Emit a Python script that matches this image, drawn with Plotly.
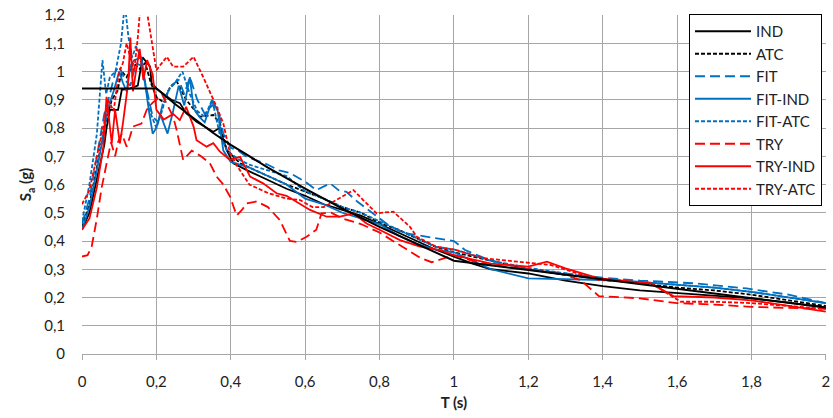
#!/usr/bin/env python
# coding=utf-8
#
# Spectral acceleration vs period: design spectrum and scaled records
#

import plotly.graph_objects as go

# design (target) spectrum, drawn black but not in the legend
t_target = [0, 0.2, 0.25, 0.3, 0.35, 0.4, 0.5, 0.6, 0.7, 0.8, 0.9, 1.0, 1.2, 1.4, 1.6, 1.8, 2.0]
sa_target = [0.94, 0.94, 0.885, 0.835, 0.785, 0.74, 0.66, 0.585, 0.515, 0.45, 0.39, 0.33,
             0.297, 0.264, 0.231, 0.198, 0.165]

t_ind = [0, 0.02, 0.04, 0.06, 0.066, 0.075, 0.097, 0.107, 0.13, 0.15, 0.163, 0.183, 0.187, 0.2,
         0.22, 0.24, 0.263, 0.28, 0.308, 0.335, 0.353, 0.37, 0.389, 0.407, 0.443, 0.5, 0.55, 0.6,
         0.65, 0.7, 0.75, 0.8, 0.85, 0.9, 0.95, 1.0, 1.05, 1.1, 1.2, 1.3, 1.4, 1.5, 1.6, 1.7, 1.8,
         1.9, 2.0]
sa_ind = [0.44, 0.5, 0.62, 0.74, 0.80, 0.864, 0.864, 0.935, 0.94, 0.95, 1.05, 1.017, 0.96, 0.94,
          0.92, 0.9, 0.888, 0.853, 0.822, 0.80, 0.787, 0.8, 0.722, 0.675, 0.651, 0.616, 0.585, 0.56,
          0.53, 0.51, 0.49, 0.46, 0.43, 0.40, 0.37, 0.345, 0.32, 0.30, 0.285, 0.26, 0.24, 0.225,
          0.215, 0.205, 0.197, 0.182, 0.165]

t_atc = [0, 0.02, 0.04, 0.06, 0.08, 0.095, 0.107, 0.12, 0.138, 0.155, 0.17, 0.185, 0.2, 0.22,
         0.237, 0.255, 0.28, 0.317, 0.353, 0.371, 0.389, 0.425, 0.45, 0.5, 0.55, 0.6, 0.65, 0.7,
         0.75, 0.8, 0.85, 0.9, 0.95, 1.0, 1.1, 1.2, 1.3, 1.4, 1.5, 1.6, 1.7, 1.8, 1.9, 2.0]
sa_atc = [0.45, 0.53, 0.66, 0.8, 0.9, 0.93, 1.0, 0.98, 1.03, 1.01, 1.03, 0.96, 0.91, 0.89, 0.946,
          0.964, 0.90, 0.84, 0.846, 0.817, 0.722, 0.675, 0.66, 0.63, 0.60, 0.575, 0.55, 0.52, 0.50,
          0.465, 0.44, 0.41, 0.38, 0.36, 0.33, 0.30, 0.28, 0.265, 0.25, 0.235, 0.225, 0.21, 0.19,
          0.17]

t_fit = [0, 0.02, 0.04, 0.06, 0.075, 0.09, 0.1, 0.115, 0.13, 0.145, 0.16, 0.175, 0.19, 0.205,
         0.22, 0.24, 0.26, 0.275, 0.29, 0.31, 0.33, 0.35, 0.365, 0.38, 0.4, 0.42, 0.44, 0.46, 0.5,
         0.53, 0.56, 0.6, 0.63, 0.667, 0.69, 0.711, 0.74, 0.78, 0.82, 0.86, 0.9, 0.95, 1.0, 1.03,
         1.1, 1.2, 1.3, 1.4, 1.5, 1.554, 1.65, 1.787, 1.9, 2.0]
sa_fit = [0.46, 0.55, 0.7, 0.85, 0.92, 1.0, 1.02, 0.97, 0.95, 1.03, 1.02, 0.93, 0.84, 0.82, 0.9,
          0.95, 0.97, 0.92, 0.98, 0.9, 0.85, 0.88, 0.87, 0.78, 0.73, 0.72, 0.70, 0.69, 0.67, 0.65,
          0.64, 0.61, 0.58, 0.604, 0.58, 0.574, 0.54, 0.50, 0.46, 0.43, 0.42, 0.41, 0.40, 0.368,
          0.33, 0.30, 0.285, 0.27, 0.26, 0.256, 0.25, 0.232, 0.21, 0.18]

t_fit_ind = [0, 0.02, 0.04, 0.06, 0.07, 0.085, 0.1, 0.11, 0.12, 0.13, 0.14, 0.16, 0.17, 0.18,
             0.19, 0.2, 0.21, 0.23, 0.245, 0.26, 0.275, 0.29, 0.3, 0.315, 0.33, 0.35, 0.365, 0.38,
             0.4, 0.45, 0.5, 0.55, 0.6, 0.65, 0.7, 0.75, 0.8, 0.85, 0.9, 0.95, 1.0, 1.05, 1.1,
             1.2, 1.3, 1.4, 1.5, 1.6, 1.7, 1.8, 1.9, 2.0]
sa_fit_ind = [0.44, 0.52, 0.65, 0.8, 0.87, 0.93, 1.0, 0.96, 0.93, 1.02, 1.04, 1.05, 0.95, 0.86,
              0.78, 0.8, 0.85, 0.78, 0.86, 0.95, 0.88, 0.98, 0.87, 0.84, 0.82, 0.9, 0.86, 0.72,
              0.68, 0.66, 0.63, 0.6, 0.55, 0.53, 0.50, 0.48, 0.46, 0.42, 0.39, 0.37, 0.36, 0.33,
              0.30, 0.268, 0.265, 0.262, 0.255, 0.245, 0.235, 0.22, 0.2, 0.18]

t_fit_atc = [0, 0.02, 0.04, 0.055, 0.065, 0.075, 0.09, 0.105, 0.115, 0.125, 0.135, 0.145, 0.155,
             0.17, 0.185, 0.2, 0.215, 0.23, 0.25, 0.27, 0.29, 0.31, 0.33, 0.35, 0.37, 0.39, 0.42,
             0.45, 0.5, 0.55, 0.6, 0.65, 0.7, 0.75, 0.8, 0.85, 0.9, 0.95, 1.0, 1.1, 1.2, 1.3, 1.4,
             1.5, 1.6, 1.7, 1.8, 1.9, 2.0]
sa_fit_atc = [0.47, 0.6, 0.78, 1.04, 0.92, 0.98, 1.0, 1.1, 1.24, 1.12, 1.05, 1.09, 1.06, 0.96,
              0.85, 0.80, 0.86, 0.93, 0.96, 1.0, 0.92, 0.86, 0.84, 0.9, 0.78, 0.72, 0.69, 0.67,
              0.65, 0.63, 0.575, 0.55, 0.52, 0.5, 0.47, 0.44, 0.41, 0.38, 0.37, 0.33, 0.305,
              0.285, 0.265, 0.255, 0.245, 0.235, 0.22, 0.2, 0.18]

t_try = [0, 0.015, 0.026, 0.04, 0.053, 0.07, 0.078, 0.089, 0.097, 0.107, 0.12, 0.129, 0.137,
         0.16, 0.174, 0.19, 0.2, 0.215, 0.23, 0.245, 0.255, 0.272, 0.295, 0.32, 0.344, 0.362,
         0.38, 0.398, 0.416, 0.43, 0.443, 0.47, 0.5, 0.532, 0.559, 0.577, 0.604, 0.63, 0.644,
         0.67, 0.7, 0.75, 0.8, 0.85, 0.91, 0.94, 1.0, 1.05, 1.1, 1.2, 1.3, 1.34, 1.39, 1.5, 1.6,
         1.7, 1.8, 1.9, 2.0]
sa_try = [0.345, 0.35, 0.38, 0.48, 0.59, 0.70, 0.75, 0.70, 0.75, 0.78, 0.734, 0.77, 0.805, 0.816,
          0.864, 0.89, 0.9, 0.92, 0.88, 0.84, 0.79, 0.687, 0.72, 0.70, 0.675, 0.628, 0.60, 0.557,
          0.49, 0.51, 0.533, 0.54, 0.52, 0.474, 0.40, 0.397, 0.415, 0.44, 0.498, 0.50, 0.48, 0.46,
          0.43, 0.39, 0.34, 0.325, 0.35, 0.33, 0.315, 0.30, 0.28, 0.262, 0.205, 0.197, 0.18,
          0.175, 0.167, 0.163, 0.16]

t_try_ind = [0, 0.02, 0.04, 0.057, 0.066, 0.08, 0.089, 0.102, 0.11, 0.124, 0.13, 0.137, 0.145,
             0.155, 0.165, 0.175, 0.19, 0.2, 0.22, 0.245, 0.263, 0.28, 0.3, 0.308, 0.335, 0.353,
             0.371, 0.398, 0.425, 0.452, 0.487, 0.523, 0.55, 0.586, 0.613, 0.658, 0.694, 0.73,
             0.765, 0.8, 0.855, 0.909, 0.962, 1.0, 1.1, 1.2, 1.25, 1.3, 1.39, 1.53, 1.59, 1.7,
             1.8, 1.9, 2.0]
sa_try_ind = [0.44, 0.48, 0.59, 0.73, 0.91, 0.746, 0.864, 0.746, 0.816, 0.958, 1.12, 0.93, 1.0,
              1.08, 0.97, 1.04, 0.99, 0.864, 0.83, 0.85, 0.828, 0.875, 0.805, 0.757, 0.734, 0.746,
              0.716, 0.687, 0.698, 0.628, 0.604, 0.569, 0.56, 0.533, 0.51, 0.486, 0.486, 0.498,
              0.462, 0.44, 0.403, 0.38, 0.368, 0.35, 0.32, 0.309, 0.327, 0.303, 0.268, 0.25,
              0.205, 0.2, 0.19, 0.17, 0.15]

t_try_atc = [0, 0.02, 0.04, 0.06, 0.07, 0.085, 0.1, 0.11, 0.12, 0.13, 0.14, 0.15, 0.16, 0.17,
             0.183, 0.2, 0.228, 0.245, 0.272, 0.3, 0.326, 0.362, 0.38, 0.398, 0.42, 0.45, 0.5,
             0.55, 0.586, 0.62, 0.65, 0.7, 0.73, 0.756, 0.792, 0.837, 0.882, 0.9, 0.953, 1.007,
             1.08, 1.17, 1.26, 1.39, 1.53, 1.61, 1.7, 1.8, 1.9, 2.0]
sa_try_atc = [0.53, 0.58, 0.7, 0.82, 0.9, 0.86, 1.0, 1.03, 1.1, 1.05, 1.0, 1.12, 1.28, 1.25,
              1.15, 1.005, 1.052, 1.017, 1.017, 1.052, 0.98, 0.875, 0.816, 0.71, 0.66, 0.6, 0.57,
              0.55, 0.545, 0.52, 0.52, 0.557, 0.58, 0.545, 0.498, 0.504, 0.45, 0.415, 0.38, 0.368,
              0.339, 0.327, 0.315, 0.262, 0.25, 0.185, 0.185, 0.18, 0.17, 0.16]

# axis ticks
x_ticks = [0, 0.2, 0.4, 0.6, 0.8, 1.0, 1.2, 1.4, 1.6, 1.8, 2.0]
y_ticks = [0, 0.1, 0.2, 0.3, 0.4, 0.5, 0.6, 0.7, 0.8, 0.9, 1.0, 1.1, 1.2]

BLUE = '#0070C0'
RED = '#FF0000'
SHORT = '4px,2px'
LONG = '10px,5px'

series = [
    ('IND', t_ind, sa_ind, 'black', 'solid'),
    ('ATC', t_atc, sa_atc, 'black', SHORT),
    ('FIT', t_fit, sa_fit, BLUE, LONG),
    ('FIT-IND', t_fit_ind, sa_fit_ind, BLUE, 'solid'),
    ('FIT-ATC', t_fit_atc, sa_fit_atc, BLUE, SHORT),
    ('TRY', t_try, sa_try, RED, LONG),
    ('TRY-IND', t_try_ind, sa_try_ind, RED, 'solid'),
    ('TRY-ATC', t_try_atc, sa_try_atc, RED, SHORT),
]

fig = go.Figure()
for name, t, sa, col, dash in series:
    fig.add_trace(go.Scatter(x=t, y=sa, name=name, mode='lines',
                             line=dict(color=col, width=1.8, dash=dash)))
# target spectrum on top, no legend entry
fig.add_trace(go.Scatter(x=t_target, y=sa_target, mode='lines', showlegend=False,
                         line=dict(color='black', width=2)))

FONT = 'Lato, Carlito, Calibri, sans-serif'
fig.update_layout(
    width=833, height=418,
    margin=dict(l=82, r=7, t=15, b=64),
    paper_bgcolor='white', plot_bgcolor='white',
    separators=', ',
    font=dict(family=FONT, size=15, color='#222222'),
    legend=dict(x=0.9946, xanchor='right', y=1.003, yanchor='top',
                bgcolor='white', bordercolor='black', borderwidth=1,
                font=dict(size=15), tracegroupgap=0, itemwidth=56),
    xaxis=dict(range=[0, 2.0005], tickvals=x_ticks, showgrid=True, gridcolor='#A6A6A6',
               gridwidth=1, zeroline=False, showline=True, linecolor='#A6A6A6',
               ticks='outside', ticklen=5, tickcolor='#A6A6A6', ticklabelstandoff=9,
               automargin=False,
               title=dict(text='<b>T (s)</b>', font=dict(size=15), standoff=8)),
    yaxis=dict(range=[0, 1.2], tickvals=y_ticks, showgrid=True, gridcolor='#A6A6A6',
               gridwidth=1, zeroline=False, showline=False, ticks='', ticklabelstandoff=16,
               automargin=False,
               title=dict(text='<b>S<sub>a</sub> (g)</b>', font=dict(size=15), standoff=8)),
)

# drop the browser's default body margin so the figure sits at the page corner
fig.write_html("out.html", config={'displayModeBar': False},
               post_script="document.body.style.margin='0';")
